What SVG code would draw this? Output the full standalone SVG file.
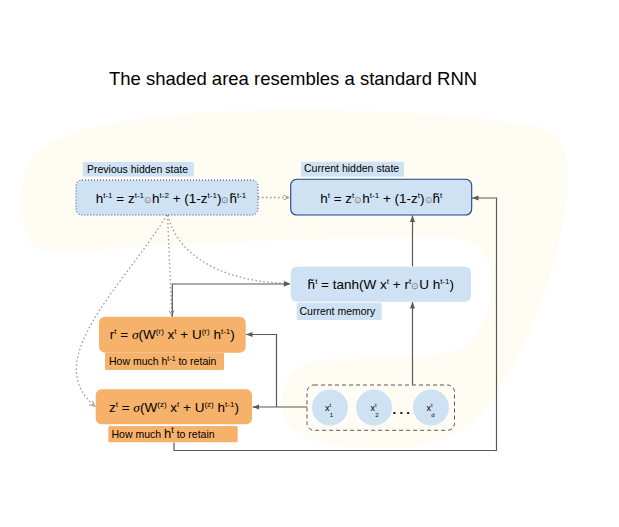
<svg xmlns="http://www.w3.org/2000/svg" width="619" height="527" viewBox="0 0 619 527">
<defs>
<style>
text{font-family:"Liberation Sans",Arial,sans-serif;fill:#000}
.title{font-size:18.5px}
.f{font-size:13.5px}
.s{font-size:8px}
.o{font-size:8.5px;fill:#777}
.sig{font-family:"Liberation Serif",serif;font-style:italic}
.lab{font-size:10.5px}
.ls{font-size:7px}
.cx{font-size:9px}
.cs{font-size:6px}
.blue{fill:#cfe2f3}
.orange{fill:#f6b26b}
.conn{fill:none;stroke:#595959;stroke-width:1.2}
.dot{fill:none;stroke:#999;stroke-width:1.3;stroke-dasharray:1.5 2.5}
</style>
<marker id="a" viewBox="0 0 10 10" refX="10" refY="5" markerWidth="6.5" markerHeight="6.5" markerUnits="userSpaceOnUse" orient="auto"><path d="M0,1 L10,5 L0,9 z" fill="#595959"/></marker>
<marker id="o" viewBox="0 0 10 10" refX="9" refY="5" markerWidth="7" markerHeight="7" markerUnits="userSpaceOnUse" orient="auto"><path d="M1,1.5 L9,5 L1,8.5" fill="none" stroke="#999" stroke-width="1.4"/></marker>
</defs>
<rect width="619" height="527" fill="#fff"/>
<path id="shade" d="M40,150 C80,118 200,110 300,110 C400,110 500,118 540,128 C565,135 572,160 567,195 C560,260 535,330 505,380 C480,425 450,447 390,448 C330,449 290,440 283,415 C276,390 290,362 320,360 C370,357 420,360 450,352 C485,342 495,300 490,270 C486,245 470,238 440,237 C340,236 200,243 60,252 C35,254 24,240 22,215 C20,185 25,160 40,150 Z" fill="#fffcf3"/>
<text class="title" x="109" y="85">The shaded area resembles a standard RNN</text>
<g id="connectors">
<path class="dot" d="M258,197.5 H289" marker-end="url(#o)"/>
<path class="dot" d="M167.5,215 L171.8,316" marker-end="url(#o)"/>
<path class="dot" d="M168,215 C175,250 215,282 289,283.5" marker-end="url(#o)"/>
<path class="dot" d="M167,215 C120,290 40,360 95,406.5" marker-end="url(#o)"/>
<path class="conn" d="M172.3,317 V284 H290" marker-end="url(#a)"/>
<path class="conn" d="M307,407 H252.5" marker-end="url(#a)"/>
<path class="conn" d="M276.5,407 V334.5 H246" marker-end="url(#a)"/>
<path class="conn" d="M412.5,385 V302" marker-end="url(#a)"/>
<path class="conn" d="M412.5,266.5 V215.5" marker-end="url(#a)"/>
<path class="conn" d="M174,442.5 V450.5 H496.5 V198 H472" marker-end="url(#a)"/>
</g>
<g id="prev-hidden">
<rect class="blue" x="82.7" y="162" width="111.3" height="14.5" rx="1.5"/>
<text class="lab" x="87" y="172.7">Previous hidden state</text>
<rect class="blue" x="76" y="180" width="182" height="35" rx="6" stroke="#1c4587" stroke-width="1" stroke-dasharray="1 2"/>
<text class="f" x="171" y="203" text-anchor="middle">h<tspan class="s" dy="-5">t-1</tspan><tspan dy="5"> = z</tspan><tspan class="s" dy="-5">t-1</tspan><tspan class="o" dy="5">⊙</tspan>h<tspan class="s" dy="-5">t-2</tspan><tspan dy="5"> + (1-z</tspan><tspan class="s" dy="-5">t-1</tspan><tspan dy="5">)</tspan><tspan class="o">⊙</tspan>h̃<tspan class="s" dy="-5">t-1</tspan></text>
</g>
<g id="curr-hidden">
<rect class="blue" x="301" y="161.7" width="103" height="15" rx="1.5"/>
<text class="lab" x="304" y="172.3">Current hidden state</text>
<rect class="blue" x="290.7" y="179.3" width="181" height="35.7" rx="6" stroke="#1c4587" stroke-width="1.1"/>
<text class="f" x="381.2" y="203.3" text-anchor="middle">h<tspan class="s" dy="-5">t</tspan><tspan dy="5"> = z</tspan><tspan class="s" dy="-5">t</tspan><tspan class="o" dy="5">⊙</tspan>h<tspan class="s" dy="-5">t-1</tspan><tspan dy="5"> + (1-z</tspan><tspan class="s" dy="-5">t</tspan><tspan dy="5">)</tspan><tspan class="o">⊙</tspan>h̃<tspan class="s" dy="-5">t</tspan></text>
</g>
<g id="memory">
<rect class="blue" x="290.7" y="266.7" width="180.3" height="35" rx="6"/>
<text class="f" x="380.8" y="289.3" text-anchor="middle">h̃<tspan class="s" dy="-5">t</tspan><tspan dy="5"> = tanh(W x</tspan><tspan class="s" dy="-5">t</tspan><tspan dy="5"> + r</tspan><tspan class="s" dy="-5">t</tspan><tspan class="o" dy="5">⊙</tspan>U h<tspan class="s" dy="-5">t-1</tspan><tspan dy="5">)</tspan></text>
<rect class="blue" x="296.7" y="302.7" width="85" height="17.3" rx="1.5"/>
<text class="lab" x="299.5" y="315.2">Current memory</text>
</g>
<g id="reset">
<rect class="orange" x="99" y="316.7" width="146.7" height="36" rx="6"/>
<text class="f" x="172.3" y="339.3" text-anchor="middle">r<tspan class="s" dy="-5">t</tspan><tspan dy="5"> = </tspan><tspan class="sig">σ</tspan>(W<tspan class="s" dy="-5">(r)</tspan><tspan dy="5"> x</tspan><tspan class="s" dy="-5">t</tspan><tspan dy="5"> + U</tspan><tspan class="s" dy="-5">(r)</tspan><tspan dy="5"> h</tspan><tspan class="s" dy="-5">t-1</tspan><tspan dy="5">)</tspan></text>
<rect class="orange" x="105" y="352.7" width="119" height="17.3" rx="1.5"/>
<text class="lab" x="109" y="365.2">How much h<tspan class="ls" dy="-4">t-1</tspan><tspan dy="4"> to retain</tspan></text>
</g>
<g id="update">
<rect class="orange" x="95.7" y="389.3" width="156.3" height="35" rx="6"/>
<text class="f" x="173.9" y="411.7" text-anchor="middle">z<tspan class="s" dy="-5">t</tspan><tspan dy="5"> = </tspan><tspan class="sig">σ</tspan>(W<tspan class="s" dy="-5">(z)</tspan><tspan dy="5"> x</tspan><tspan class="s" dy="-5">t</tspan><tspan dy="5"> + U</tspan><tspan class="s" dy="-5">(z)</tspan><tspan dy="5"> h</tspan><tspan class="s" dy="-5">t-1</tspan><tspan dy="5">)</tspan></text>
<rect class="orange" x="108.3" y="426" width="129.4" height="16.3" rx="1.5"/>
<text class="lab" x="111.5" y="438.3">How much <tspan font-size="13px">h</tspan><tspan font-size="9px" dy="-5">t</tspan><tspan dy="5"> to retain</tspan></text>
</g>
<g id="inputs">
<rect x="307" y="385" width="147.5" height="45.3" rx="7" fill="none" stroke="#595959" stroke-width="1" stroke-dasharray="4 3"/>
<circle class="blue" cx="330" cy="407.5" r="18"/>
<circle class="blue" cx="374" cy="407.5" r="18"/>
<circle class="blue" cx="431" cy="407.5" r="18"/>
<text class="cx" x="325" y="411">x<tspan class="cs" dy="-4.5">t</tspan><tspan class="cs" x="329.8" dy="10">1</tspan></text>
<text class="cx" x="370.5" y="411">x<tspan class="cs" dy="-4.5">t</tspan><tspan class="cs" x="375.3" dy="10">2</tspan></text>
<text class="cx" x="426.5" y="411">x<tspan class="cs" dy="-4.5">t</tspan><tspan class="cs" x="431.3" dy="10">d</tspan></text>
<text x="392.5" y="413.5" font-size="13px" font-weight="bold" letter-spacing="3.3">...</text>
</g>
</svg>
